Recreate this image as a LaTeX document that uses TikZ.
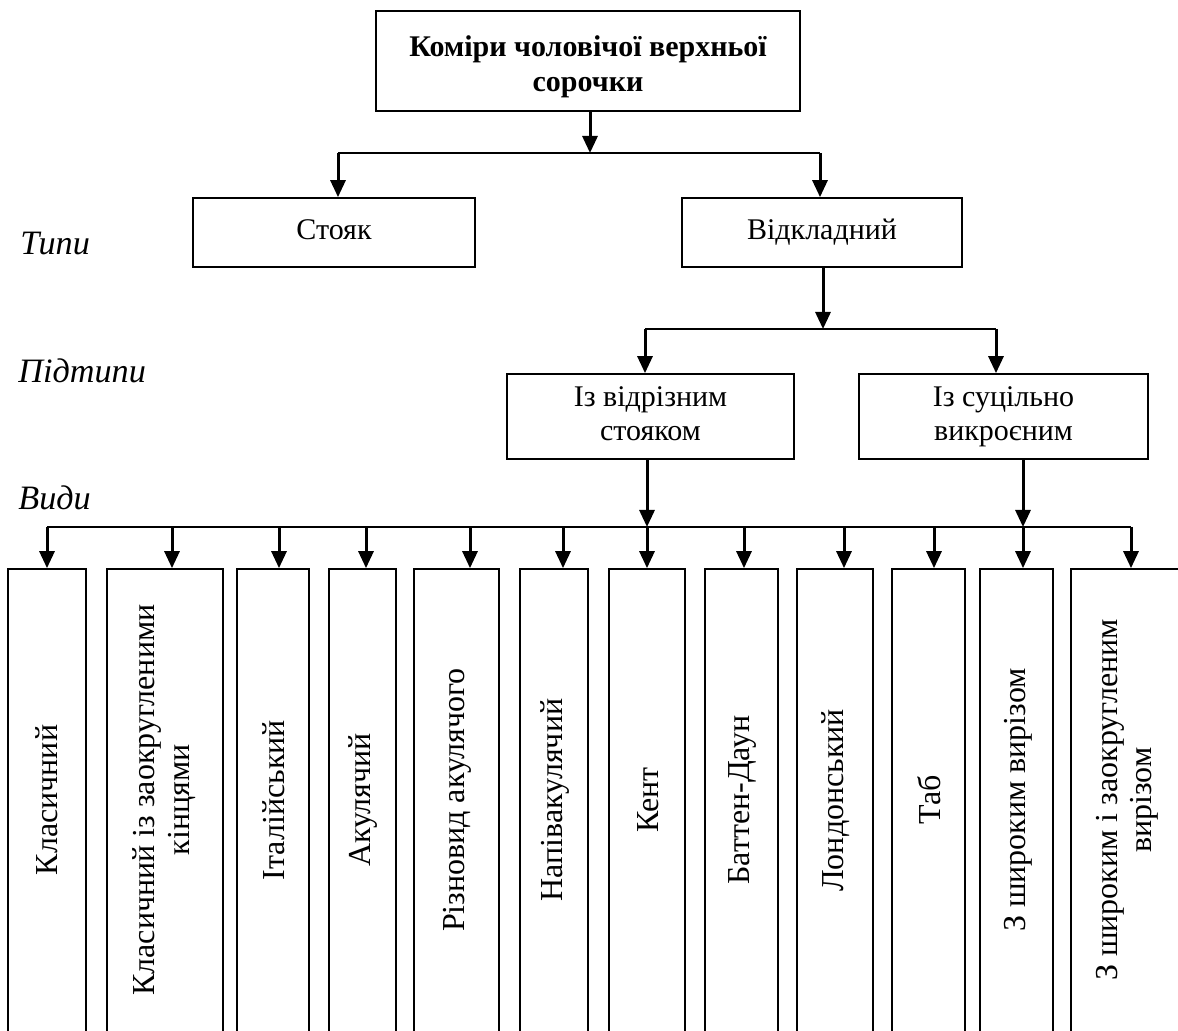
\documentclass[tikz,border=0pt]{standalone}
\usepackage{fontspec}
\setmainfont{Liberation Serif}
\usetikzlibrary{arrows.meta}
\begin{document}
\begin{tikzpicture}[x=0.5pt,y=-0.5pt,
  txt/.style={font=\fontsize{15pt}{17.25pt}\selectfont},
  box/.style={draw, line width=0.85pt, rectangle, inner sep=0pt, align=center, txt},
  vbox/.style={draw, line width=0.85pt, rectangle, inner sep=0pt, minimum height=238pt},
  vtext/.style={rotate=90, align=center, inner sep=0pt, font=\fontsize{16pt}{17.2pt}\selectfont},
  bus/.style={line width=0.85pt},
  arr/.style={line width=1.5pt, -{Triangle[length=8.5pt,width=7.5pt]}},
  level/.style={anchor=base west, inner sep=0pt, font=\fontsize{17.1pt}{20pt}\selectfont\itshape}
]
\useasboundingbox (0,0) rectangle (1178,1031);

% level captions
\node[level] (cap1) at (20,255) {Типи};
\node[level] (cap2) at (18,383) {Підтипи};
\node[level] (cap3) at (18,510) {Види};

% root and the two upper levels
\node[box, minimum width=212pt, minimum height=50pt, font=\fontsize{15pt}{17.5pt}\selectfont\bfseries]
  (top) at (588,61) {\rule{0pt}{16pt}Коміри чоловічої верхньої\\сорочки};
\node[box, minimum width=141pt, minimum height=34.5pt] (stoyak) at (334,232.5) {Стояк\strut};
\node[box, minimum width=140pt, minimum height=34.5pt] (vidk) at (822,232.5) {Відкладний\strut};
\node[box, minimum width=143.5pt, minimum height=42.5pt] (vidr) at (650.5,416.5) {Із відрізним\strut\\стояком\strut};
\node[box, minimum width=144.5pt, minimum height=42.5pt] (sucil) at (1003.5,416.5) {Із суцільно\strut\\викроєним\strut};

% bottom row of kinds (open towards the lower edge)
\foreach \n/\x/\w in {1/47/39, 2/165/58, 3/273/36, 4/362.5/33.5, 5/456.5/42.5, 6/554/34,
                      7/647/38, 8/741.5/36.5, 9/835/38, 10/928.5/36.5, 11/1016.5/36.5, 12/1135.5/64.5}
  \node[vbox, minimum width=\w pt] (k\n) at (\x,807) {};

\node[vtext] (n1)  at (47,800)   {Класичний};
\node[vtext] (n2)  at (164,800)  {Класичний із заокругленими\\кінцями};
\node[vtext] (n3)  at (274,800)  {Італійський};
\node[vtext] (n4)  at (363,800)  {Акулячий};
\node[vtext] (n5)  at (457,800)  {Різновид акулячого};
\node[vtext] (n6)  at (555,800)  {Напівакулячий};
\node[vtext] (n7)  at (648,800)  {Кент};
\node[vtext] (n8)  at (742,800)  {Баттен-Даун};
\node[vtext] (n9)  at (836,800)  {Лондонський};
\node[vtext] (n10) at (929,800)  {Таб};
\node[vtext] (n11) at (1018,800) {З широким вирізом};
\node[vtext] (n12) at (1127,800) {З широким і заокругленим\\вирізом};

% first branching
\coordinate (s0) at (590,153);
\coordinate (s1) at (338,153);
\coordinate (s2) at (820,153);
\draw[arr] (top.south -| s0) -- (s0);
\draw[bus] (s1) -- (s2);
\draw[arr] (s1) -- (s1 |- stoyak.north);
\draw[arr] (s2) -- (s2 |- vidk.north);

% second branching
\coordinate (p0) at (823,329);
\coordinate (p1) at (645,329);
\coordinate (p2) at (996,329);
\draw[arr] (vidk.south -| p0) -- (p0);
\draw[bus] (p1) -- (p2);
\draw[arr] (p1) -- (p1 |- vidr.north);
\draw[arr] (p2) -- (p2 |- sucil.north);

% third branching
\coordinate (q1) at (647,527);
\coordinate (q2) at (1023,527);
\draw[arr] (vidr.south -| q1) -- (q1);
\draw[arr] (sucil.south -| q2) -- (q2);
\foreach \n/\x in {1/47, 2/172, 3/279, 4/366, 5/470, 6/563, 7/647, 8/744, 9/844, 10/934, 11/1023, 12/1131}
  \coordinate (t\n) at (\x,527);
\draw[bus] (t1) -- (t12);
\foreach \n in {1,...,12}
  \draw[arr] (t\n) -- (t\n |- k\n.north);
\end{tikzpicture}
\end{document}
